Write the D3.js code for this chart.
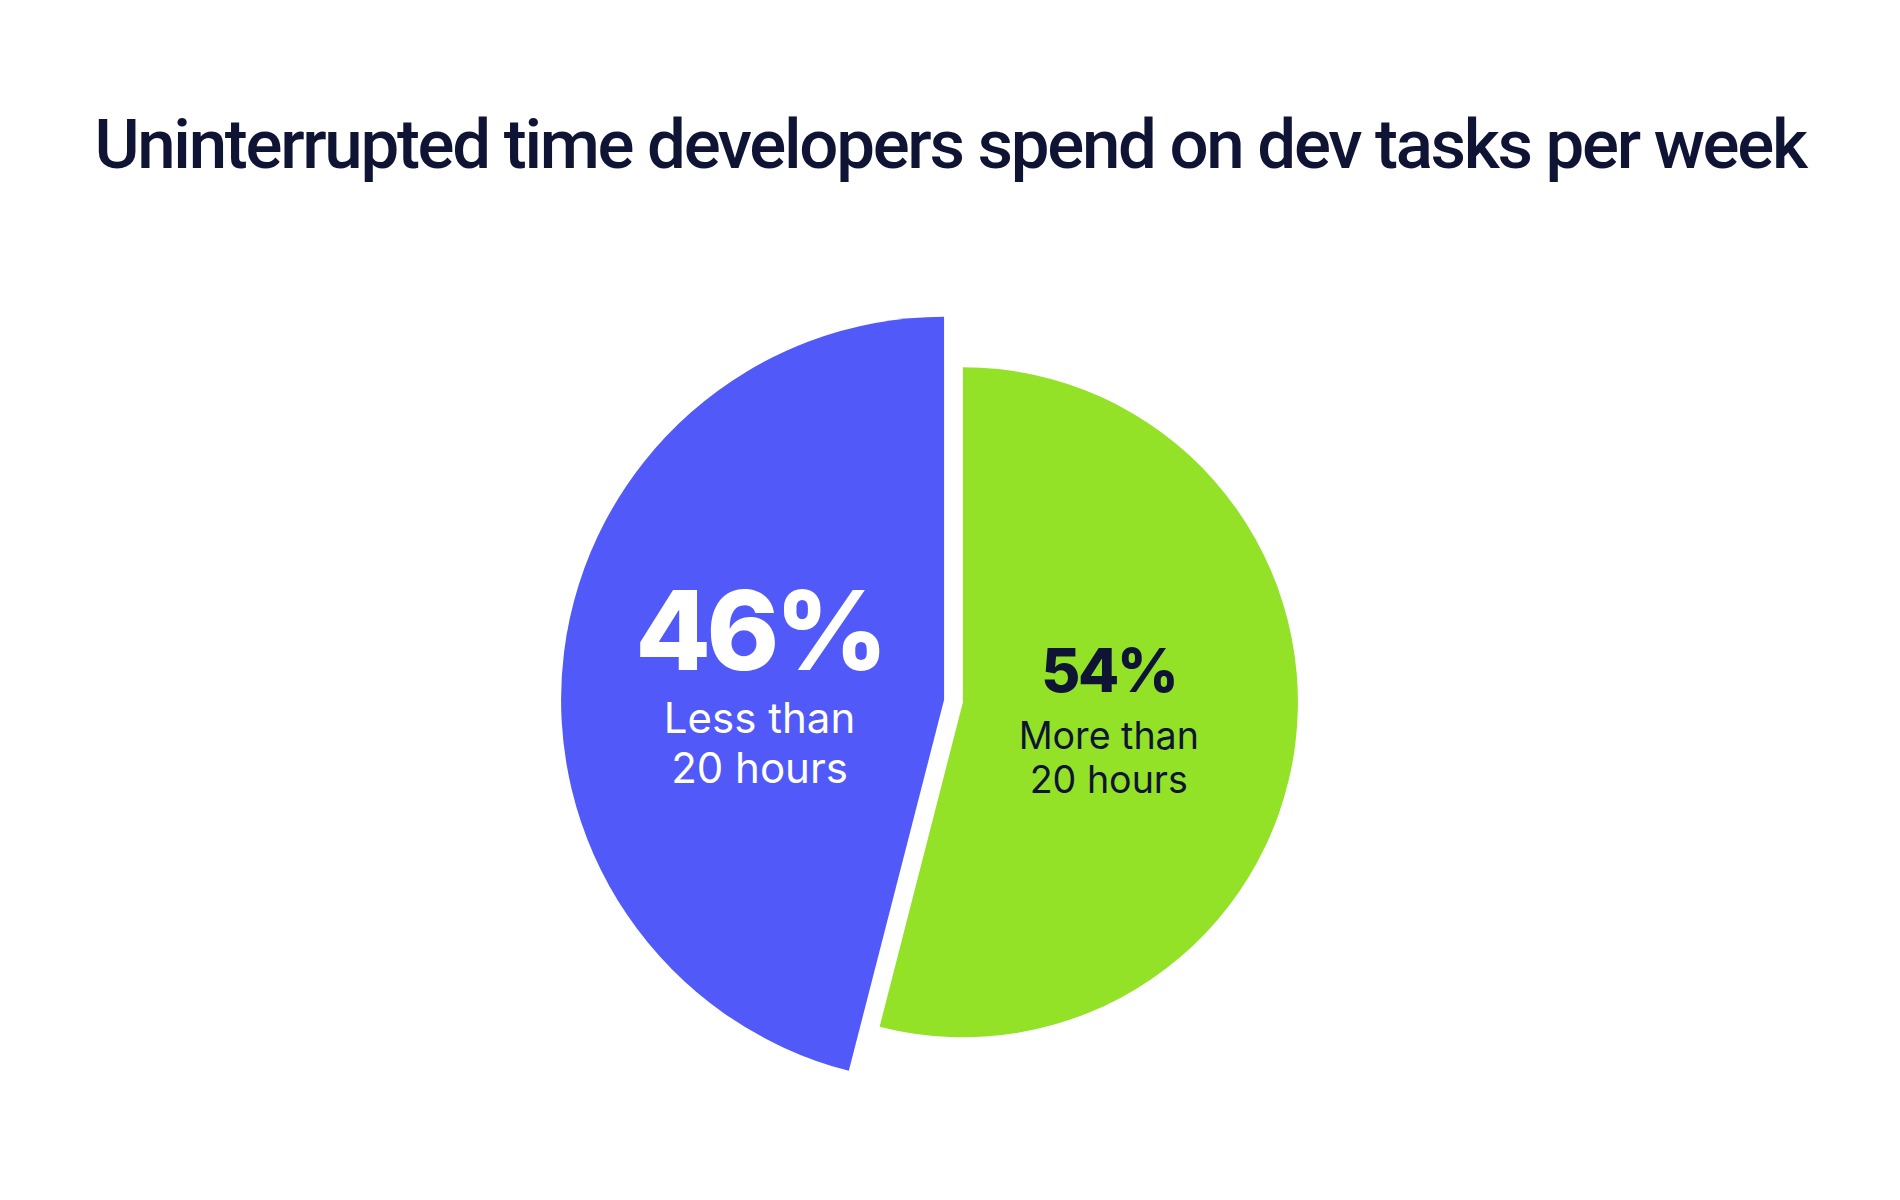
<!DOCTYPE html>
<html>
<head>
<meta charset="utf-8">
<script src="https://cdn.jsdelivr.net/npm/d3@7"></script>
<style>
  html, body { margin: 0; padding: 0; background: #fff; }
  svg { display: block; }
</style>
</head>
<body>
<div id="chart"></div>
<script>
// data
const title = 'Uninterrupted time developers spend on dev tasks per week';
const categories = ['Less than 20 hours', 'More than 20 hours'];
const values = [46, 54];
const valueLabels = ['46%', '54%'];
const labelLines = [['Less than', '20 hours'], ['More than', '20 hours']];

// layout / style
const WIDTH = 1900, HEIGHT = 1200;
const CENTER = [953.5, 701];
const EXPLODE = 9.5;               // each slice pushed out along its bisector
const RADII = [383, 335];          // the two slices are drawn with different radii
const FILLS = ['#5159f8', '#93e227'];
const TEXT_FILLS = ['#ffffff', '#0f1434'];
const NUMBER_SIZES = [110, 60];
const LINE_SIZES = [42, 37.6];
const LABEL_DIST = [186, 147];
const LABEL_DY = [10, 0];
const TITLE_WIDTH = 1711;
const INK = '#0f1434';
const FONT = 'Inter, "Noto Sans", sans-serif';

const svg = d3.select('#chart').append('svg')
  .attr('width', WIDTH)
  .attr('height', HEIGHT)
  .attr('viewBox', [0, 0, WIDTH, HEIGHT]);

const titleText = svg.append('text')
  .attr('x', WIDTH / 2)
  .attr('y', 168)
  .attr('text-anchor', 'middle')
  .attr('fill', INK)
  .style('font-family', 'Roboto, ' + FONT)
  .style('font-weight', 500)
  .style('font-size', '69px')
  .text(title);

// tighten the tracking so the title runs the same width as the reference
const natural = titleText.node().getComputedTextLength();
if (natural > TITLE_WIDTH) {
  const ls = (TITLE_WIDTH - natural) / title.length;
  titleText.style('letter-spacing', ls.toFixed(2) + 'px');
}

const total = d3.sum(values);
// first slice ends at 12 o'clock, second starts there and runs clockwise
const pie = d3.pie()
  .sort(null)
  .startAngle(-values[0] / total * 2 * Math.PI)
  .endAngle((1 - values[0] / total) * 2 * Math.PI);

const arcs = pie(values).map((a, i) => ({ ...a, i, category: categories[i] }));

const g = svg.append('g').attr('transform', `translate(${CENTER[0]},${CENTER[1]})`);

const slices = g.selectAll('.slice')
  .data(arcs)
  .join('g')
  .attr('class', 'slice')
  .attr('transform', d => {
    const mid = (d.startAngle + d.endAngle) / 2;
    return `translate(${Math.sin(mid) * EXPLODE},${-Math.cos(mid) * EXPLODE})`;
  });

slices.append('path')
  .attr('d', d => d3.arc().innerRadius(0).outerRadius(RADII[d.i])(d))
  .attr('fill', d => FILLS[d.i]);

const labels = slices.append('g')
  .attr('transform', d => {
    const mid = (d.startAngle + d.endAngle) / 2;
    const x = Math.sin(mid) * LABEL_DIST[d.i];
    const y = -Math.cos(mid) * LABEL_DIST[d.i] + LABEL_DY[d.i];
    return `translate(${x},${y})`;
  })
  .attr('fill', d => TEXT_FILLS[d.i])
  .attr('text-anchor', 'middle')
  .style('font-family', FONT);

// vertically centre the block: number cap top to last label baseline
const numBase = d => {
  const N = NUMBER_SIZES[d.i], L = LINE_SIZES[d.i];
  return -(2.67 * L - 0.727 * N) / 2;
};

labels.append('text')
  .attr('y', d => numBase(d))
  .style('font-size', d => NUMBER_SIZES[d.i] + 'px')
  .style('font-weight', 800)
  .style('letter-spacing', '-0.04em')
  .text(d => valueLabels[d.i]);

labels.selectAll('.line')
  .data(d => labelLines[d.i].map((t, k) => ({ t, k, d })))
  .join('text')
  .attr('class', 'line')
  .attr('y', o => numBase(o.d) + LINE_SIZES[o.d.i] * (1.5 + 1.17 * o.k))
  .style('font-size', o => LINE_SIZES[o.d.i] + 'px')
  .style('font-weight', 400)
  .text(o => o.t);
</script>
</body>
</html>
